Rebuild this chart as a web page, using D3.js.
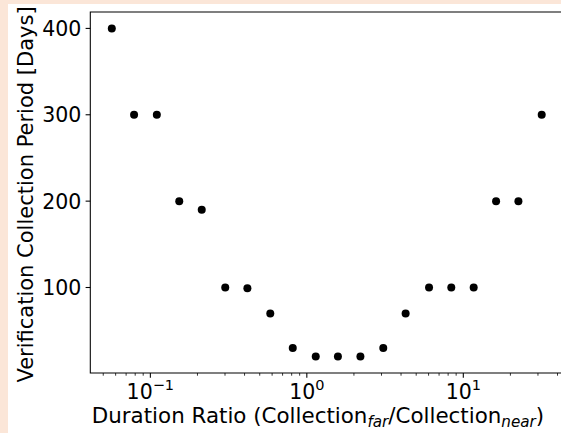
<!DOCTYPE html>
<html>
<head>
<meta charset="utf-8">
<script src="https://cdn.jsdelivr.net/npm/d3@7"></script>
<style>
  html, body { margin: 0; padding: 0; background: #fbe6d8; }
  svg { display: block; }
  text { font-family: "DejaVu Sans", sans-serif; fill: #000; }
</style>
</head>
<body>
<svg id="chart" width="561" height="433"></svg>
<script>
// Duration ratio (far / near collection) for each configuration
const ratios = [0.0567, 0.0787, 0.110, 0.153, 0.213, 0.301, 0.417, 0.584, 0.813, 1.14,
                1.58, 2.20, 3.08, 4.28, 6.04, 8.38, 11.65, 16.2, 22.5, 31.7];
// Verification collection period in days
const periods = [400, 300, 300, 200, 190, 100, 99, 70, 30, 20,
                 20, 20, 30, 70, 100, 100, 100, 200, 200, 300];
const yTicks = [100, 200, 300, 400];
const xMajorTicks = [0.1, 1, 10];
const xTickExponents = ["\u22121", "0", "1"];

const svg = d3.select("#chart");
const W = 561, H = 433;

// white figure panel
svg.append("rect").attr("x", 8).attr("y", 4).attr("width", W - 8).attr("height", H - 4).attr("fill", "#fff");

const plot = { left: 90.3, right: 563.2, top: 12, bottom: 373 };

// 5% padding on each side, log space on x
const lx = d3.extent(ratios).map(Math.log10);
const padX = (lx[1] - lx[0]) * 0.05;
const x = d3.scaleLog()
  .domain([Math.pow(10, lx[0] - padX), Math.pow(10, lx[1] + padX)])
  .range([plot.left, plot.right]);

const ly = d3.extent(periods);
const padY = (ly[1] - ly[0]) * 0.05;
const y = d3.scaleLinear()
  .domain([ly[0] - padY, ly[1] + padY])
  .range([plot.bottom, plot.top]);

// minor x ticks: 2..9 of each decade
const [d0, d1] = x.domain();
const xMinor = [];
for (let e = Math.floor(Math.log10(d0)); e <= Math.ceil(Math.log10(d1)); e++) {
  for (let m = 2; m <= 9; m++) {
    const v = m * Math.pow(10, e);
    if (v >= d0 && v <= d1) xMinor.push(v);
  }
}

const g = svg.append("g");

// points
g.selectAll("circle.pt").data(ratios).join("circle")
  .attr("class", "pt")
  .attr("cx", (d) => x(d))
  .attr("cy", (d, i) => y(periods[i]))
  .attr("r", 4)
  .attr("fill", "#000");

// spines
g.append("path")
  .attr("d", `M${plot.right},${plot.top}H${plot.left}V${plot.bottom}H${plot.right}V${plot.top}`)
  .attr("fill", "none").attr("stroke", "#000").attr("stroke-width", 1.07);

// x ticks
const xAxis = svg.append("g");
xAxis.selectAll("line.minor").data(xMinor).join("line")
  .attr("x1", (d) => x(d)).attr("x2", (d) => x(d))
  .attr("y1", plot.bottom).attr("y2", plot.bottom + 2.7)
  .attr("stroke", "#000").attr("stroke-width", 0.8);
xAxis.selectAll("line.major").data(xMajorTicks).join("line")
  .attr("x1", (d) => x(d)).attr("x2", (d) => x(d))
  .attr("y1", plot.bottom).attr("y2", plot.bottom + 4.7)
  .attr("stroke", "#000").attr("stroke-width", 1.07);

const xl = xAxis.selectAll("text.tick").data(xMajorTicks).join("text")
  .attr("class", "tick")
  .attr("x", (d) => x(d))
  .attr("y", plot.bottom + 26)
  .attr("text-anchor", "middle")
  .style("font-size", "20.5px");
xl.append("tspan").text("10");
xl.append("tspan").attr("dy", -9).style("font-size", "14.5px").text((d, i) => xTickExponents[i]);

// y ticks
const yAxis = svg.append("g");
yAxis.selectAll("line").data(yTicks).join("line")
  .attr("x1", plot.left - 4.7).attr("x2", plot.left)
  .attr("y1", (d) => y(d)).attr("y2", (d) => y(d))
  .attr("stroke", "#000").attr("stroke-width", 1.07);
yAxis.selectAll("text").data(yTicks).join("text")
  .attr("x", plot.left - 9)
  .attr("y", (d) => y(d))
  .attr("dy", "0.36em")
  .attr("text-anchor", "end")
  .style("font-size", "20.5px")
  .text((d) => d);

// axis titles
const xt = svg.append("text")
  .attr("x", 318)
  .attr("y", 423)
  .attr("text-anchor", "middle")
  .style("font-size", "21.4px");
xt.append("tspan").text("Duration Ratio (Collection");
xt.append("tspan").attr("dy", 4).style("font-size", "15.2px").style("font-style", "italic").text("far");
xt.append("tspan").attr("dy", -4).text("/Collection");
xt.append("tspan").attr("dy", 4).style("font-size", "15.2px").style("font-style", "italic").text("near");
xt.append("tspan").attr("dy", -4).text(")");

svg.append("text")
  .attr("transform", `translate(33,194.5) rotate(-90)`)
  .attr("text-anchor", "middle")
  .style("font-size", "21px")
  .text("Verification Collection Period [Days]");
</script>
</body>
</html>
